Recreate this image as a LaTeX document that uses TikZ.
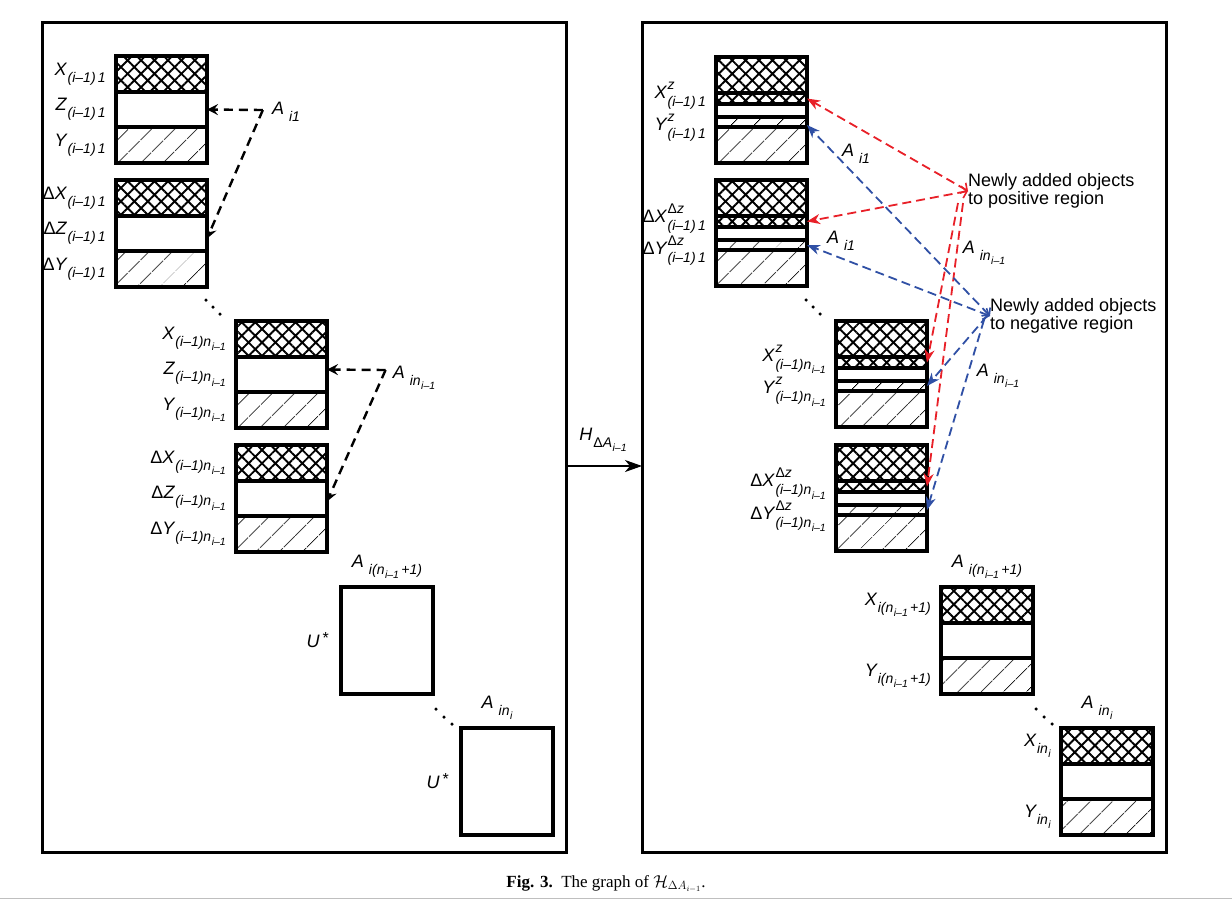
\documentclass[tikz,border=0pt]{standalone}
\usepackage{fontspec}
\setmainfont{Liberation Sans}
\newfontfamily\capfont{Liberation Serif}
\usetikzlibrary{patterns.meta}
\usetikzlibrary{arrows.meta}
\usetikzlibrary{positioning}

\definecolor{posred}{RGB}{232,32,40}
\definecolor{negblue}{RGB}{48,80,165}

\newcommand\lsub[1]{\kern1pt\raisebox{-7pt}{\fontsize{14}{14}\selectfont #1}}
\newcommand\lssub[1]{\kern0.5pt\raisebox{-4.5pt}{\fontsize{10.5}{10.5}\selectfont #1}}
\newcommand\lsupsub[2]{\kern1pt\makebox[0pt][l]{\raisebox{9pt}{\fontsize{14}{14}\selectfont #1}}\raisebox{-8pt}{\fontsize{14}{14}\selectfont #2}}

\begin{document}
\begin{tikzpicture}[x=1pt,y=-1pt,
band/.style={draw,line width=3.5pt,minimum width=91pt,inner sep=0pt,outer sep=0pt},
xband/.style={band,pattern={Hatch[angle=45,distance=9.5pt,line width=1.9pt]}},
yband/.style={band,pattern={Lines[angle=45,distance=17pt,line width=1pt]}},
zband/.style={band,fill=white},
ubox/.style={draw,line width=3.5pt,minimum width=92pt,minimum height=107pt,inner sep=0pt,outer sep=0pt},
panel/.style={draw,line width=3pt,minimum width=524pt,minimum height=830pt,inner sep=0pt,outer sep=0pt},
lab/.style={inner sep=0pt,font=\fontsize{18}{20}\selectfont\itshape},
note/.style={inner sep=0pt,align=left,font=\fontsize{18}{15}\selectfont},
dots/.style={fill,circle,inner sep=0pt,minimum size=3.5pt},
blackarr/.style={line width=2.4pt,dash pattern=on 9pt off 6pt,-{Stealth[length=11pt,width=11pt,inset=4pt]}},
posarr/.style={posred,line width=1.8pt,dash pattern=on 9pt off 5pt,{Straight Barb[length=5pt,width=12pt,line width=1.6pt]}-{Stealth[length=13pt,width=10pt,inset=4pt]}},
posline/.style={posred,line width=1.8pt,dash pattern=on 9pt off 5pt,-{Stealth[length=13pt,width=10pt,inset=4pt]}},
negarr/.style={negblue,line width=1.8pt,dash pattern=on 9pt off 5pt,{Straight Barb[length=5pt,width=12pt,line width=1.6pt]}-{Stealth[length=13pt,width=10pt,inset=4pt]}},
negline/.style={negblue,line width=1.8pt,dash pattern=on 9pt off 5pt,-{Stealth[length=13pt,width=10pt,inset=4pt]}}]

\useasboundingbox (0,0) rectangle (1232,900);

% the two panels
\node[panel] (lp) at (304,437) {};
\node[panel] (rp) at (904,437) {};
\draw[line width=1.1pt,-{Stealth[length=17pt,width=12pt,inset=5pt]}] ([yshift=-29pt]lp.east) -- ([yshift=-29pt]rp.west);
\node[lab] (hlab) at (603,440) {H\lsub{\textup{Δ}A\lssub{i–1}}};

% left panel
\foreach \n/\x/\y in {L1/161.5/56,L2/161.5/180,L3/281.5/321,L4/281.5/445}{
  \node[xband,minimum height=36pt] (\n-x) at (\x,\y+18) {};
  \node[zband,minimum height=35pt] (\n-z) at (\x,\y+53.5) {};
  \node[yband,minimum height=36pt] (\n-y) at (\x,\y+89) {};
}
\node[lab,anchor=east] (L1-xl) at ([xshift=-10pt]L1-x.west) {X\lsub{(i–1)\,1}};
\node[lab,anchor=east] (L1-zl) at ([xshift=-10pt]L1-z.west) {Z\lsub{(i–1)\,1}};
\node[lab,anchor=east] (L1-yl) at ([xshift=-10pt]L1-y.west) {Y\lsub{(i–1)\,1}};
\node[lab,anchor=east] (L2-xl) at ([xshift=-10pt]L2-x.west) {\textup{Δ}X\lsub{(i–1)\,1}};
\node[lab,anchor=east] (L2-zl) at ([xshift=-10pt]L2-z.west) {\textup{Δ}Z\lsub{(i–1)\,1}};
\node[lab,anchor=east] (L2-yl) at ([xshift=-10pt]L2-y.west) {\textup{Δ}Y\lsub{(i–1)\,1}};
\node[lab,anchor=east] (L3-xl) at ([xshift=-10pt]L3-x.west) {X\lsub{(i–1)n\lssub{i–1}}};
\node[lab,anchor=east] (L3-zl) at ([xshift=-10pt]L3-z.west) {Z\lsub{(i–1)n\lssub{i–1}}};
\node[lab,anchor=east] (L3-yl) at ([xshift=-10pt]L3-y.west) {Y\lsub{(i–1)n\lssub{i–1}}};
\node[lab,anchor=east] (L4-xl) at ([xshift=-10pt]L4-x.west) {\textup{Δ}X\lsub{(i–1)n\lssub{i–1}}};
\node[lab,anchor=east] (L4-zl) at ([xshift=-10pt]L4-z.west) {\textup{Δ}Z\lsub{(i–1)n\lssub{i–1}}};
\node[lab,anchor=east] (L4-yl) at ([xshift=-10pt]L4-y.west) {\textup{Δ}Y\lsub{(i–1)n\lssub{i–1}}};

\node[lab] (Ai1) at (286,112) {A\kern4pt\lsub{i1}};
\coordinate (c1) at ([xshift=-9pt,yshift=2pt]Ai1.west);
\draw[blackarr] (c1) -- (L1-z.east);
\draw[blackarr] (c1) -- ([yshift=-5pt]L2-z.east);
\node[lab] (Ain) at (414,378) {A\kern4pt\lsub{in\lssub{i–1}}};
\coordinate (c2) at ([xshift=-7pt,yshift=8pt]Ain.west);
\draw[blackarr] (c2) -- ([yshift=5pt]L3-z.east);
\draw[blackarr] (c2) -- ([yshift=-3pt]L4-z.east);

\node[ubox] (UA) at (387,640.5) {};
\node[ubox] (UB) at (507,781.5) {};
\node[lab,above=8pt of UA] (UA-l) {A\kern4pt\lsub{i(n\lssub{i–1}\,+1)}};
\node[lab,above=8pt of UB,xshift=-10pt] (UB-l) {A\kern4pt\lsub{in\lssub{i}}};
\node[lab,left=12pt of UA] (UA-u) {U\kern3pt\raisebox{4pt}{\fontsize{16}{16}\selectfont\upshape *}};
\node[lab,left=12pt of UB] (UB-u) {U\kern3pt\raisebox{4pt}{\fontsize{16}{16}\selectfont\upshape *}};

\foreach \p [count=\k] in {(206,300),(213,307),(220,314)} \node[dots] (ld\k) at \p {};
\foreach \p [count=\k] in {(436,709),(444,717),(452,724)} \node[dots] (ud\k) at \p {};

% right panel
\foreach \n/\x/\y in {R1/761.5/57,R2/761.5/180,R3/881.5/321,R4/881.5/445}{
  \node[xband,minimum height=36pt] (\n-x) at (\x,\y+18) {};
  \node[xband,minimum height=11pt] (\n-xz) at (\x,\y+41.5) {};
  \node[zband,minimum height=13pt] (\n-wz) at (\x,\y+53.5) {};
  \node[yband,minimum height=10pt] (\n-yz) at (\x,\y+65) {};
  \node[yband,minimum height=36pt] (\n-y) at (\x,\y+88) {};
}
\node[lab,anchor=east] (R1-xl) at ([xshift=-10pt,yshift=3pt]R1-xz.west) {X\lsupsub{z}{(i–1)\,1}};
\node[lab,anchor=east] (R1-yl) at ([xshift=-10pt,yshift=-6pt]R1-yz.west) {Y\lsupsub{z}{(i–1)\,1}};
\node[lab,anchor=east] (R2-xl) at ([xshift=-10pt,yshift=3pt]R2-xz.west) {\textup{Δ}X\lsupsub{\textup{Δ}z}{(i–1)\,1}};
\node[lab,anchor=east] (R2-yl) at ([xshift=-10pt,yshift=-6pt]R2-yz.west) {\textup{Δ}Y\lsupsub{\textup{Δ}z}{(i–1)\,1}};
\node[lab,anchor=east] (R3-xl) at ([xshift=-10pt,yshift=3pt]R3-xz.west) {X\lsupsub{z}{(i–1)n\lssub{i–1}}};
\node[lab,anchor=east] (R3-yl) at ([xshift=-10pt,yshift=-6pt]R3-yz.west) {Y\lsupsub{z}{(i–1)n\lssub{i–1}}};
\node[lab,anchor=east] (R4-xl) at ([xshift=-10pt,yshift=3pt]R4-xz.west) {\textup{Δ}X\lsupsub{\textup{Δ}z}{(i–1)n\lssub{i–1}}};
\node[lab,anchor=east] (R4-yl) at ([xshift=-10pt,yshift=-6pt]R4-yz.west) {\textup{Δ}Y\lsupsub{\textup{Δ}z}{(i–1)n\lssub{i–1}}};

\node[xband,minimum width=92pt,minimum height=36pt] (R5-x) at (987,605) {};
\node[zband,minimum width=92pt,minimum height=35pt] (R5-z) at (987,640.5) {};
\node[yband,minimum width=92pt,minimum height=36pt] (R5-y) at (987,676) {};
\node[xband,minimum width=92pt,minimum height=36pt] (R6-x) at (1107,746) {};
\node[zband,minimum width=92pt,minimum height=35pt] (R6-z) at (1107,781.5) {};
\node[yband,minimum width=92pt,minimum height=36pt] (R6-y) at (1107,817) {};
\node[lab,above=8pt of R5-x] (R5-al) {A\kern4pt\lsub{i(n\lssub{i–1}\,+1)}};
\node[lab,above=8pt of R6-x,xshift=-10pt] (R6-al) {A\kern4pt\lsub{in\lssub{i}}};
\node[lab,anchor=east] (R5-xl) at ([xshift=-10pt]R5-x.west) {X\lsub{i(n\lssub{i–1}\,+1)}};
\node[lab,anchor=east] (R5-yl) at ([xshift=-10pt]R5-y.west) {Y\lsub{i(n\lssub{i–1}\,+1)}};
\node[lab,anchor=east] (R6-xl) at ([xshift=-10pt]R6-x.west) {X\lsub{in\lssub{i}}};
\node[lab,anchor=east] (R6-yl) at ([xshift=-10pt]R6-y.west) {Y\lsub{in\lssub{i}}};

\foreach \p [count=\k] in {(806,300),(813,307),(820,314)} \node[dots] (rd\k) at \p {};
\foreach \p [count=\k] in {(1036,709),(1044,717),(1052,724)} \node[dots] (sd\k) at \p {};

\node[note,anchor=west] (pos) at (968,191) {Newly added objects\\to positive region};
\node[note,anchor=west] (neg) at (990,316) {Newly added objects\\to negative region};

\draw[posarr] (pos.west) -- (R1-xz.east);
\draw[posarr] (pos.west) -- (R2-xz.east);
\coordinate (pv) at ([xshift=-10pt,yshift=-12pt]pos.west);
\draw[posline] (pv) -- (R3-xz.east);
\draw[posline] ([xshift=5pt]pv) -- (R4-xz.east);
\draw[negarr] (neg.west) -- ([yshift=-3pt]R1-yz.east);
\draw[negarr] (neg.west) -- (R2-yz.east);
\draw[negline] ([xshift=-3pt]neg.west) -- (R3-yz.east);
\draw[negline] ([xshift=-6pt,yshift=-4pt]neg.west) -- (R4-yz.east);

\node[lab] (Ai1r) at (856,154) {A\kern4pt\lsub{i1}};
\node[lab] (Ai1s) at (841,241) {A\kern4pt\lsub{i1}};
\node[lab] (Ainr) at (984,253) {A\kern4pt\lsub{in\lssub{i–1}}};
\node[lab] (Ains) at (998,376) {A\kern4pt\lsub{in\lssub{i–1}}};

% caption
\node[font=\capfont\fontsize{17}{19}\selectfont] (cap) at (606,884) {\textbf{Fig. 3.}\hspace{0.5em}The graph of $\mathcal{H}_{\Delta A_{i-1}}$.};
\draw[black!25,line width=1pt] (0,898) -- (1232,898);

\end{tikzpicture}
\end{document}
